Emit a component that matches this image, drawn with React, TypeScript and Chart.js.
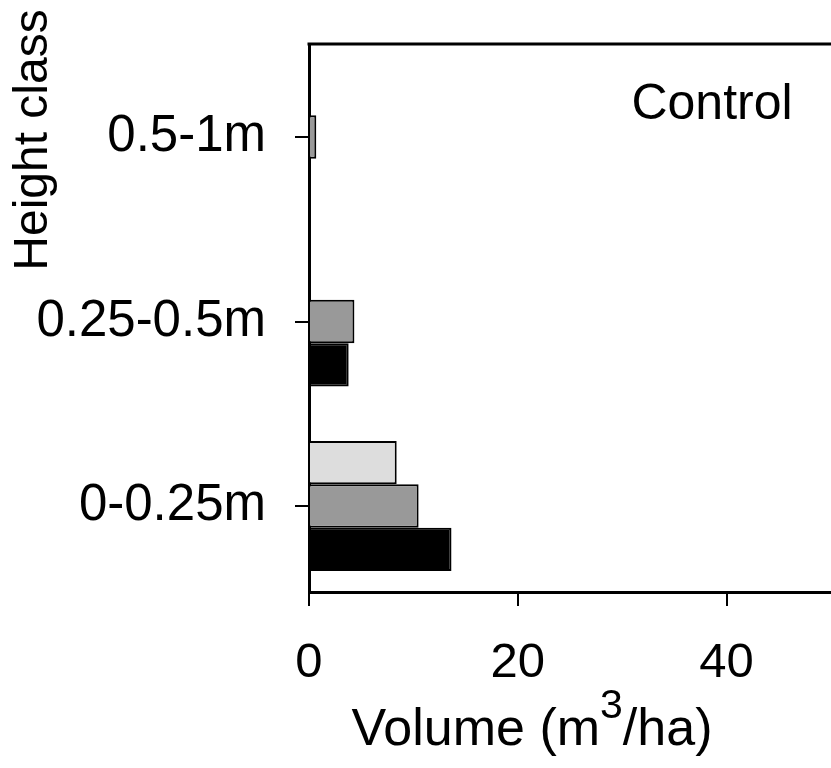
import React, { useEffect, useRef } from "react";
import { Chart, registerables } from "chart.js";

Chart.register(...registerables);

const categories = ["0.5-1m", "0.25-0.5m", "0-0.25m"];
const seriesLight = [null, null, 8.4];
const seriesGray = [0.7, 4.35, 10.5];
const seriesBlack = [null, 3.8, 13.65];
const xTickValues = [0, 20, 40];
const yAxisTitle = "Height class";
const panelLabel = "Control";
const xTitleMain = "Volume (m";
const xTitleSup = "3";
const xTitleEnd = "/ha)";

const FONT = "'Liberation Sans', Arial, sans-serif";

const toPoints = (arr: (number | null)[]) =>
  arr
    .map((v, i) => (v === null ? null : { x: v, y: i }))
    .filter((p) => p !== null);

const textPlugin = {
  id: "textPlugin",
  afterDraw(chart: any) {
    const { ctx, chartArea } = chart;
    ctx.save();
    // top border
    ctx.strokeStyle = "#000";
    ctx.lineWidth = 3;
    ctx.beginPath();
    ctx.moveTo(chartArea.left - 1.5, 44);
    ctx.lineTo(chart.width, 44);
    ctx.stroke();

    ctx.fillStyle = "#000";
    // y title
    ctx.save();
    ctx.translate(47, 140);
    ctx.rotate(-Math.PI / 2);
    ctx.font = `48px ${FONT}`;
    ctx.textAlign = "center";
    ctx.textBaseline = "alphabetic";
    ctx.fillText(yAxisTitle, 0, 0);
    ctx.restore();

    // panel label
    ctx.font = `50px ${FONT}`;
    ctx.textAlign = "center";
    ctx.textBaseline = "alphabetic";
    ctx.fillText(panelLabel, 712, 119);

    // x title with superscript
    const mainFont = `52px ${FONT}`;
    const supFont = `41px ${FONT}`;
    ctx.font = mainFont;
    const w1 = ctx.measureText(xTitleMain).width;
    const w3 = ctx.measureText(xTitleEnd).width;
    ctx.font = supFont;
    const w2 = ctx.measureText(xTitleSup).width;
    const total = w1 + w2 + w3;
    let x = 532 - total / 2;
    ctx.textAlign = "left";
    ctx.font = mainFont;
    ctx.fillText(xTitleMain, x, 745);
    x += w1;
    ctx.font = supFont;
    ctx.fillText(xTitleSup, x, 718);
    x += w2;
    ctx.font = mainFont;
    ctx.fillText(xTitleEnd, x, 745);
    ctx.restore();
  },
};

export default function App() {
  const ref = useRef<HTMLCanvasElement | null>(null);
  useEffect(() => {
    document.body.style.margin = "0";
    const canvas = ref.current;
    if (!canvas) return;
    const chart = new Chart(canvas, {
      type: "bar",
      data: {
        datasets: [
          {
            label: "light",
            data: toPoints(seriesLight),
            backgroundColor: "#dddddd",
            borderColor: "#000",
            borderWidth: 2,
          },
          {
            label: "gray",
            data: toPoints(seriesGray),
            backgroundColor: "#999999",
            borderColor: "#000",
            borderWidth: 2,
          },
          {
            label: "black",
            data: toPoints(seriesBlack),
            backgroundColor: "#000000",
            borderColor: "#000",
            borderWidth: 2,
          },
        ],
      },
      options: {
        indexAxis: "y",
        responsive: false,
        animation: false,
        devicePixelRatio: 1,
        layout: { padding: { top: 44, right: 0, left: 0, bottom: 0 } },
        datasets: {
          bar: { categoryPercentage: 0.705, barPercentage: 1 },
        },
        plugins: {
          legend: { display: false },
          tooltip: { enabled: false },
          title: { display: false },
        },
        scales: {
          x: {
            type: "linear",
            min: 0,
            max: 50,
            afterFit: (s: any) => {
              s.height = 176;
              s.paddingLeft = 0;
              s.paddingRight = 0;
            },
            afterBuildTicks: (s: any) => {
              s.ticks = xTickValues.map((v) => ({ value: v }));
            },
            ticks: {
              font: { family: FONT, size: 49 },
              color: "#000",
              padding: 28,
              maxRotation: 0,
            },
            grid: {
              display: true,
              drawOnChartArea: false,
              drawTicks: true,
              tickLength: 14,
              color: "#000",
              lineWidth: 2,
            },
            border: { display: true, color: "#000", width: 3 },
          },
          y: {
            type: "linear",
            reverse: true,
            offset: false,
            min: -0.504,
            max: 2.466,
            afterFit: (s: any) => {
              s.width = 309;
              s.paddingTop = 0;
              s.paddingBottom = 0;
            },
            afterBuildTicks: (s: any) => {
              s.ticks = categories.map((_, i) => ({ value: i }));
            },
            ticks: {
              font: { family: FONT, size: 51 },
              color: "#000",
              padding: 29,
              callback: (v: any) => categories[Math.round(Number(v))] ?? "",
            },
            grid: {
              display: true,
              offset: false,
              drawOnChartArea: false,
              drawTicks: true,
              tickLength: 14,
              color: "#000",
              lineWidth: 2,
            },
            border: { display: true, color: "#000", width: 3 },
          },
        },
      },
      plugins: [textPlugin],
    } as any);
    return () => chart.destroy();
  }, []);
  return (
    <canvas
      ref={ref}
      width={831}
      height={768}
      style={{ display: "block", width: 831, height: 768 }}
    />
  );
}
